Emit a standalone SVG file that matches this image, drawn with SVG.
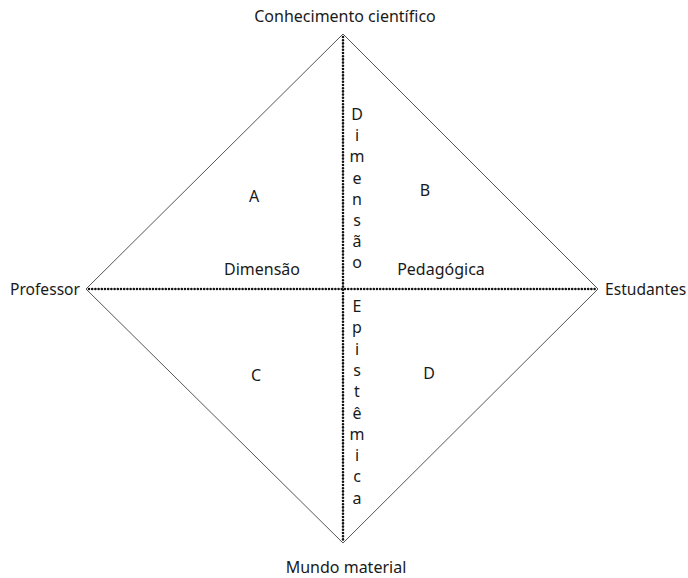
<svg xmlns="http://www.w3.org/2000/svg" width="688" height="578" viewBox="0 0 688 578">
<style>
text{font-family:"Noto Sans","Open Sans",sans-serif;font-size:16px;fill:#1a1a1a}
.m{text-anchor:middle}
.s{font-size:15.6px}
.edge{stroke:#555;stroke-width:1;fill:none}
.dot{stroke:#111;stroke-width:2.6;stroke-linecap:round;stroke-dasharray:0 3.2;fill:none}
</style>
<rect width="688" height="578" fill="#fff"/>
<g id="connectors">
<path class="edge" d="M343 34 L598 289 L343 543 L86 289 Z"/>
<line class="dot" x1="343" y1="37" x2="343" y2="540"/>
<line class="dot" x1="89" y1="289" x2="595" y2="289"/>
</g>
<g id="node-top"><text class="m" x="345" y="22">Conhecimento científico</text></g>
<g id="node-left"><text class="s" x="10" y="295">Professor</text></g>
<g id="node-right"><text class="s" x="605" y="295">Estudantes</text></g>
<g id="node-bottom"><text class="m" x="346" y="573">Mundo material</text></g>
<g id="quadrants">
<text class="m" x="254" y="202">A</text>
<text class="m" x="425" y="196">B</text>
<text class="m" x="256" y="381">C</text>
<text class="m" x="429" y="379">D</text>
</g>
<g id="dimensao-pedagogica">
<text class="m" x="262" y="275">Dimensão</text>
<text class="m" x="441" y="275">Pedagógica</text>
</g>
<g id="dimensao-vertical">
<text class="m" x="357" y="120">D</text>
<text class="m" x="357" y="141">i</text>
<text class="m" x="357" y="162">m</text>
<text class="m" x="357" y="184">e</text>
<text class="m" x="357" y="205">n</text>
<text class="m" x="357" y="226">s</text>
<text class="m" x="357" y="247">ã</text>
<text class="m" x="357" y="268">o</text>
</g>
<g id="epistemica-vertical">
<text class="m" x="357" y="312">E</text>
<text class="m" x="357" y="333">p</text>
<text class="m" x="357" y="355">i</text>
<text class="m" x="357" y="376">s</text>
<text class="m" x="357" y="397">t</text>
<text class="m" x="357" y="419">ê</text>
<text class="m" x="357" y="440">m</text>
<text class="m" x="357" y="461">i</text>
<text class="m" x="357" y="482">c</text>
<text class="m" x="357" y="504">a</text>
</g>
</svg>
